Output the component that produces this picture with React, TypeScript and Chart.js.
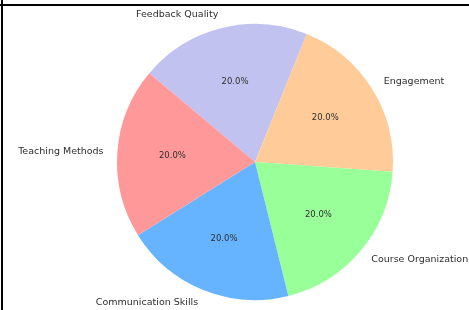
import React, { useEffect, useRef } from "react";
import { Chart, registerables } from "chart.js";

Chart.register(...registerables);

const categories = [
  "Teaching Methods",
  "Communication Skills",
  "Course Organization",
  "Engagement",
  "Feedback Quality",
];
const values = [20, 20, 20, 20, 20];
const colors = ["#ff9999", "#66b3ff", "#99ff99", "#ffcc99", "#c2c2f0"];

// matplotlib draws counter-clockwise from startangle 140deg; Chart.js draws clockwise,
// so feed the slices in reverse order.
const order = categories.map((_, i) => categories.length - 1 - i);

const labelPlugin = {
  id: "pieLabels",
  beforeDraw(chart: any) {
    const ctx = chart.ctx;
    ctx.save();
    ctx.fillStyle = "#ffffff";
    ctx.fillRect(0, 0, chart.width, chart.height);
    ctx.restore();
  },
  afterDraw(chart: any) {
    const ctx = chart.ctx;
    const meta = chart.getDatasetMeta(0);
    const ds = chart.data.datasets[0];
    const total = (ds.data as number[]).reduce((a, b) => a + b, 0);
    ctx.save();
    meta.data.forEach((arc: any, i: number) => {
      const { x, y, startAngle, endAngle, outerRadius } = arc.getProps(
        ["x", "y", "startAngle", "endAngle", "outerRadius"],
        true
      );
      const mid = (startAngle + endAngle) / 2;
      const c = Math.cos(mid);
      const s = Math.sin(mid);
      // outer category label
      ctx.font = "9.5px 'DejaVu Sans'";
      ctx.fillStyle = "#2e2e2e";
      ctx.textBaseline = "middle";
      ctx.textAlign = c < 0 ? "right" : "left";
      ctx.fillText(
        chart.data.labels[i],
        x + c * outerRadius * 1.1,
        y + s * outerRadius * 1.1
      );
      // percentage label
      ctx.font = "8.5px 'DejaVu Sans'";
      ctx.textAlign = "center";
      const pct = ((ds.data[i] / total) * 100).toFixed(1) + "%";
      ctx.fillText(pct, x + c * outerRadius * 0.6, y + s * outerRadius * 0.6);
    });
    // frame lines
    ctx.fillStyle = "#000000";
    ctx.fillRect(0, 4, chart.width, 2);
    ctx.fillRect(1, 0, 2, chart.height);
    ctx.restore();
  },
};

export default function App() {
  const ref = useRef<HTMLCanvasElement>(null);
  useEffect(() => {
    if (!ref.current) return;
    const chart = new Chart(ref.current, {
      type: "pie",
      data: {
        labels: order.map((i) => categories[i]),
        datasets: [
          {
            data: order.map((i) => values[i]),
            backgroundColor: order.map((i) => colors[i]),
            borderWidth: 0,
          },
        ],
      },
      options: {
        animation: false,
        responsive: false,
        maintainAspectRatio: false,
        rotation: -50,
        layout: { padding: { top: 24, bottom: 10, left: 117, right: 76 } },
        plugins: {
          legend: { display: false },
          tooltip: { enabled: false },
        },
      },
      plugins: [labelPlugin],
    });
    return () => chart.destroy();
  }, []);
  return (
    <div style={{ position: "fixed", left: 0, top: 0, width: 469, height: 310 }}>
      <canvas ref={ref} width={469} height={310} style={{ display: "block" }} />
    </div>
  );
}
